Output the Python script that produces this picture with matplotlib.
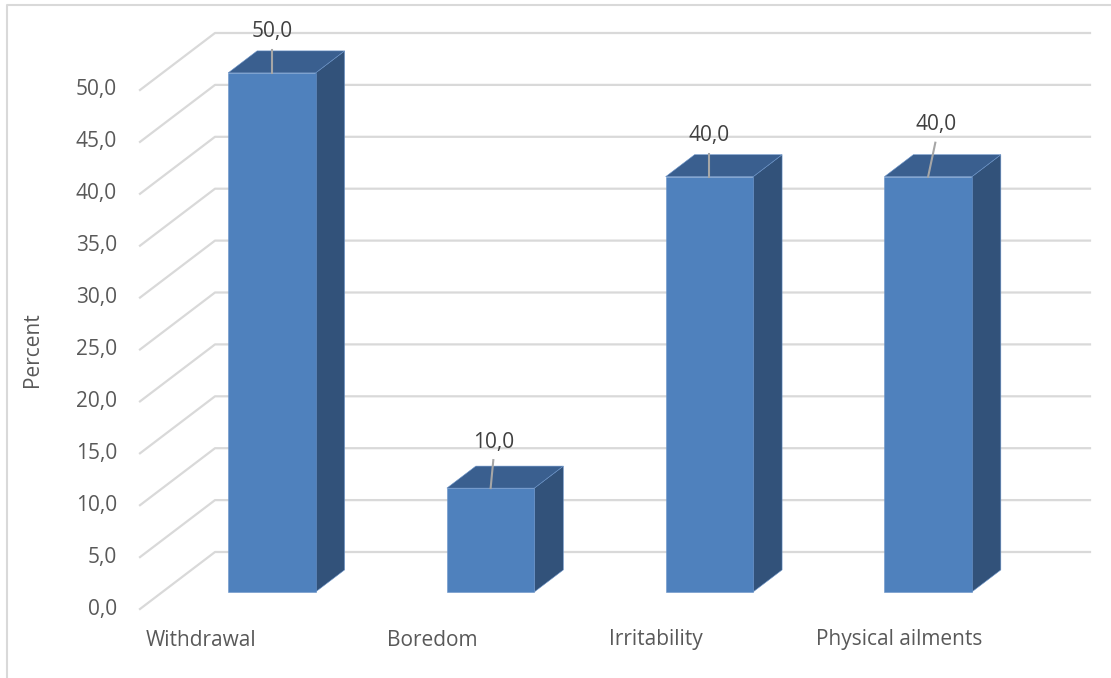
import matplotlib.pyplot as plt
from matplotlib.patches import Polygon

plt.rcParams['font.family'] = ['Open Sans', 'DejaVu Sans']

categories = ["Withdrawal", "Boredom", "Irritability", "Physical ailments"]
values = [50.0, 10.0, 40.0, 40.0]
yticks = [0, 5, 10, 15, 20, 25, 30, 35, 40, 45, 50]

# layout of the pseudo-3D box (pixels, y going down)
x0, y0 = 140, 609          # front-left corner of the floor
cat_w = 218.75             # width of one category slot
px_per_unit = 10.38
depth_dx, depth_dy = 75, -57
bar_w = 0.40
bar_d0, bar_d1 = 0.30, 0.686
label_nudge = [-48, -36, -31, -6]
dlabel_off = [(0, -41), (3, -46), (0, -41), (8, -52)]

front = "#4F81BD"
top_c = "#3A5F8F"
side_c = "#32527A"
grid_c = "#D9D9D9"
txt_c = "#595959"


def proj(x_cat, v, d):
    return (x0 + x_cat * cat_w + d * depth_dx,
            y0 - v * px_per_unit + d * depth_dy)


fig = plt.figure(figsize=(11.11, 6.78), dpi=100)
ax = fig.add_axes([0, 0, 1, 1])
ax.set_xlim(0, 1111)
ax.set_ylim(678, 0)
ax.axis("off")

# chart border (top and left visible)
ax.plot([7, 7, 1111], [678, 5, 5], color="#D9D9D9", lw=1.5)

# gridlines: side wall diagonal + back wall horizontal
n_cat = len(categories)
for v in yticks:
    xa, ya = proj(0, v, 0)
    xb, yb = proj(0, v, 1)
    xc, yc = proj(n_cat, v, 1)
    ax.plot([xa, xb, xc], [ya, yb, yc], color=grid_c, lw=1.6, zorder=1)
    ax.text(117, ya, f"{v:.1f}".replace(".", ","), ha="right", va="center",
            fontsize=15, color=txt_c)

# bars
for i, v in enumerate(values):
    l = i + 0.5 - bar_w / 2
    r = i + 0.5 + bar_w / 2
    face = [proj(l, 0, bar_d0), proj(r, 0, bar_d0), proj(r, v, bar_d0), proj(l, v, bar_d0)]
    top = [proj(l, v, bar_d0), proj(r, v, bar_d0), proj(r, v, bar_d1), proj(l, v, bar_d1)]
    side = [proj(r, 0, bar_d0), proj(r, 0, bar_d1), proj(r, v, bar_d1), proj(r, v, bar_d0)]
    for pts, c in [(side, side_c), (top, top_c), (face, front)]:
        ax.add_patch(Polygon(pts, closed=True, facecolor=c, edgecolor="#6A93C8",
                             lw=0.4, zorder=3))
    # data label with leader line
    ax_, ay_ = proj(i + 0.5, v, bar_d0)
    dx, dy = dlabel_off[i]
    tx, ty = ax_ + dx, ay_ + dy
    ax.plot([ax_, ax_ + dx * 0.9], [ay_, ty + 18], color="#A6A6A6", lw=1.5, zorder=4)
    ax.text(tx, ty, f"{v:.1f}".replace(".", ","), ha="center", va="center",
            fontsize=15, color="#404040", zorder=5)

# category labels
for i, name in enumerate(categories):
    cx, cy = proj(i + 0.5, 0, 0)
    ax.text(cx + label_nudge[i], cy + 31, name, ha="center", va="center",
            fontsize=15, color=txt_c)

ax.text(33, 350, "Percent", rotation=90, ha="center", va="center",
        fontsize=15, color=txt_c)

fig.savefig("out.png", dpi=100)
